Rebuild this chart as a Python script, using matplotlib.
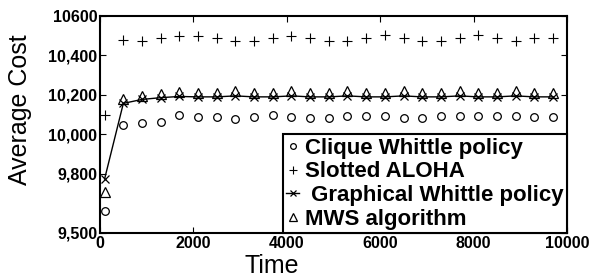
import matplotlib
matplotlib.use("Agg")
import matplotlib.pyplot as plt
from matplotlib.ticker import FixedLocator

plt.rcParams["font.family"] = ["Liberation Sans", "DejaVu Sans"]

# sample times
time = [100] + list(range(500, 9701, 400))

clique = [9610, 10047, 10056, 10064, 10098, 10086, 10086, 10077, 10086, 10098,
          10086, 10081, 10081, 10093, 10093, 10093, 10081, 10081, 10093, 10093,
          10093, 10093, 10093, 10090, 10090]
aloha = [10100, 10478, 10474, 10487, 10499, 10499, 10487, 10474, 10474, 10487,
         10499, 10487, 10475, 10475, 10487, 10504, 10487, 10475, 10475, 10487,
         10504, 10487, 10475, 10487, 10487]
graphical = [9775, 10157, 10177, 10186, 10192, 10190, 10190, 10195, 10190, 10190,
             10195, 10190, 10190, 10195, 10190, 10190, 10195, 10190, 10190, 10195,
             10190, 10190, 10195, 10190, 10190]
mws = [9710, 10180, 10195, 10205, 10215, 10210, 10210, 10220, 10210, 10210,
       10220, 10210, 10210, 10222, 10210, 10210, 10222, 10210, 10210, 10222,
       10210, 10210, 10222, 10210, 10210]

yticks = [9500, 9800, 10000, 10200, 10400, 10600]
ytick_labels = ["9,500", "9,800", "10,000", "10,200", "10,400", "10600"]
xticks = [0, 2000, 4000, 6000, 8000, 10000]

fig = plt.figure(figsize=(6.03, 2.8), dpi=100)
ax = fig.add_axes([0.1658, 0.1679, 0.7745, 0.775])

ax.plot(time, clique, linestyle="none", marker="o", ms=5.5, mfc="none",
        mec="black", mew=0.9, label="Clique Whittle policy")
ax.plot(time, aloha, linestyle="none", marker="+", ms=7.5, color="black",
        mew=0.8, label="Slotted ALOHA")
ax.plot(time, graphical, linestyle="-", lw=1.0, marker="x", ms=5.5,
        color="black", mew=0.9, label=" Graphical Whittle policy")
ax.plot(time, mws, linestyle="none", marker="^", ms=7, mfc="none",
        mec="black", mew=0.9, label="MWS algorithm")

ax.set_xlim(0, 10000)
ax.set_ylim(9500, 10600)
ax.xaxis.set_major_locator(FixedLocator(xticks))
ax.set_xticklabels([str(t) for t in xticks], fontweight="bold", fontsize=11.5)
ax.yaxis.set_major_locator(FixedLocator(yticks))
ax.set_yticklabels(ytick_labels, fontweight="bold", fontsize=11.5)
ax.tick_params(direction="in", top=True, right=True, length=4, width=0.8,
               pad=2)
for s in ax.spines.values():
    s.set_linewidth(1.5)

ax.set_ylabel("Average Cost", fontsize=18)
ax.yaxis.set_label_coords(-0.146, 0.567)
ax.set_xlabel("Time", fontsize=18)
ax.xaxis.set_label_coords(0.368, -0.095)

leg = ax.legend(loc="lower right", bbox_to_anchor=(1, 0), borderaxespad=0,
                fancybox=False, framealpha=1, edgecolor="black",
                prop={"weight": "bold", "size": 16}, handlelength=0.6,
                handletextpad=0.25, borderpad=0.15, labelspacing=0.12,
                markerscale=0.75)
leg.get_frame().set_linewidth(1.5)

fig.savefig("out.png", dpi=100)
